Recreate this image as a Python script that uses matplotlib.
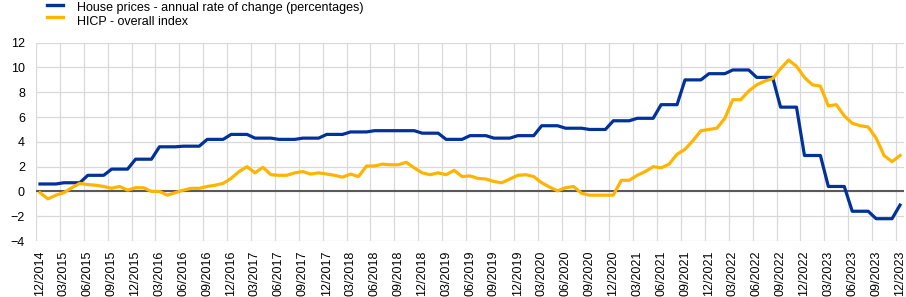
import numpy as np
import matplotlib
matplotlib.use("Agg")
import matplotlib.pyplot as plt
from matplotlib.lines import Line2D

plt.rcParams['font.family'] = ['Liberation Sans', 'DejaVu Sans']

# quarterly house price growth, shown for 3 months each on a monthly axis (12/2014 .. 12/2023)
house_q = [0.6, 0.7, 1.3, 1.8, 2.6, 3.6, 3.65, 4.2, 4.6, 4.3, 4.2, 4.3,
           4.6, 4.8, 4.9, 4.9, 4.7, 4.2, 4.5, 4.3, 4.5, 5.3, 5.1, 5.0,
           5.7, 5.9, 7.0, 9.0, 9.5, 9.8, 9.2, 6.8, 2.9, 0.4, -1.6, -2.2, -1.1]

# monthly HICP annual rate, 12/2014 .. 12/2023
hicp = [-0.1, -0.6, -0.3, -0.1, 0.3, 0.65, 0.55, 0.5, 0.4, 0.25, 0.4, 0.1,
        0.3, 0.3, 0.0, 0.0, -0.3, -0.1, 0.1, 0.25, 0.25, 0.4, 0.5, 0.65,
        1.05, 1.6, 2.0, 1.5, 1.95, 1.35, 1.3, 1.3, 1.5, 1.6, 1.4, 1.5,
        1.4, 1.3, 1.15, 1.4, 1.2, 2.05, 2.05, 2.2, 2.15, 2.15, 2.35, 1.9,
        1.5, 1.35, 1.5, 1.35, 1.7, 1.2, 1.25, 1.05, 1.0, 0.8, 0.7, 1.0,
        1.3, 1.35, 1.2, 0.7, 0.35, 0.05, 0.3, 0.4, -0.15, -0.3, -0.3, -0.3,
        -0.3, 0.9, 0.9, 1.3, 1.6, 2.0, 1.9, 2.2, 3.0, 3.4, 4.1, 4.9,
        5.0, 5.1, 5.9, 7.4, 7.4, 8.1, 8.6, 8.9, 9.1, 9.9, 10.6, 10.1,
        9.2, 8.6, 8.5, 6.9, 7.0, 6.1, 5.5, 5.3, 5.2, 4.3, 2.9, 2.4, 2.9]

tick_labels = ['12/2014', '03/2015', '06/2015', '09/2015', '12/2015', '03/2016', '06/2016',
               '09/2016', '12/2016', '03/2017', '06/2017', '09/2017', '12/2017', '03/2018',
               '06/2018', '09/2018', '12/2018', '03/2019', '06/2019', '09/2019', '12/2019',
               '03/2020', '06/2020', '09/2020', '12/2020', '03/2021', '06/2021', '09/2021',
               '12/2021', '03/2022', '06/2022', '09/2022', '12/2022', '03/2023', '06/2023',
               '09/2023', '12/2023']

legend_labels = ['House prices - annual rate of change (percentages)', 'HICP - overall index']

BLUE = '#003299'
YELLOW = '#FFB400'

n = len(hicp)
x = np.arange(n)
house = np.repeat(house_q, 3)[:n]

W, H = 906, 297
fig = plt.figure(figsize=(W / 100, H / 100), dpi=100)
ax = fig.add_axes([36 / W, 1 - 241 / H, (904 - 36) / W, (241 - 42.7) / H])

# grid
for g in np.arange(-0.5, n, 3):
    ax.axvline(g, color='#d9d9d9', lw=0.9, zorder=0)
for v in range(-4, 13, 2):
    ax.axhline(v, color='#d9d9d9', lw=0.9, zorder=0)
ax.axhline(0, color='#595959', lw=1.5, zorder=1)

ax.plot(x, house, color=BLUE, lw=2.3, zorder=3)
ax.plot(x, hicp, color=YELLOW, lw=2.3, zorder=3)

ax.set_xlim(-0.5, n - 0.5)
ax.set_ylim(-4, 12)
ax.set_yticks(range(-4, 13, 2))
ax.set_xticks(np.arange(0, n, 3))
ax.set_xticklabels(tick_labels, rotation=90)
ax.tick_params(axis='both', length=0, labelsize=9, colors='#000000')
ax.tick_params(axis='x', pad=7)
ax.tick_params(axis='y', pad=8)
for s in ax.spines.values():
    s.set_visible(False)

# legend drawn by hand at the top left
for j, (lab, col) in enumerate(zip(legend_labels, [BLUE, YELLOW])):
    yl = 1 - (4.5 + 12.8 * j) / H
    fig.add_artist(Line2D([47 / W, 63 / W], [yl, yl], color=col, lw=2.4,
                          transform=fig.transFigure))
    fig.text(77 / W, 1 - (8.5 + 13.5 * j) / H, lab, fontsize=9, va='center', ha='left')

fig.savefig('out.png', dpi=100)
